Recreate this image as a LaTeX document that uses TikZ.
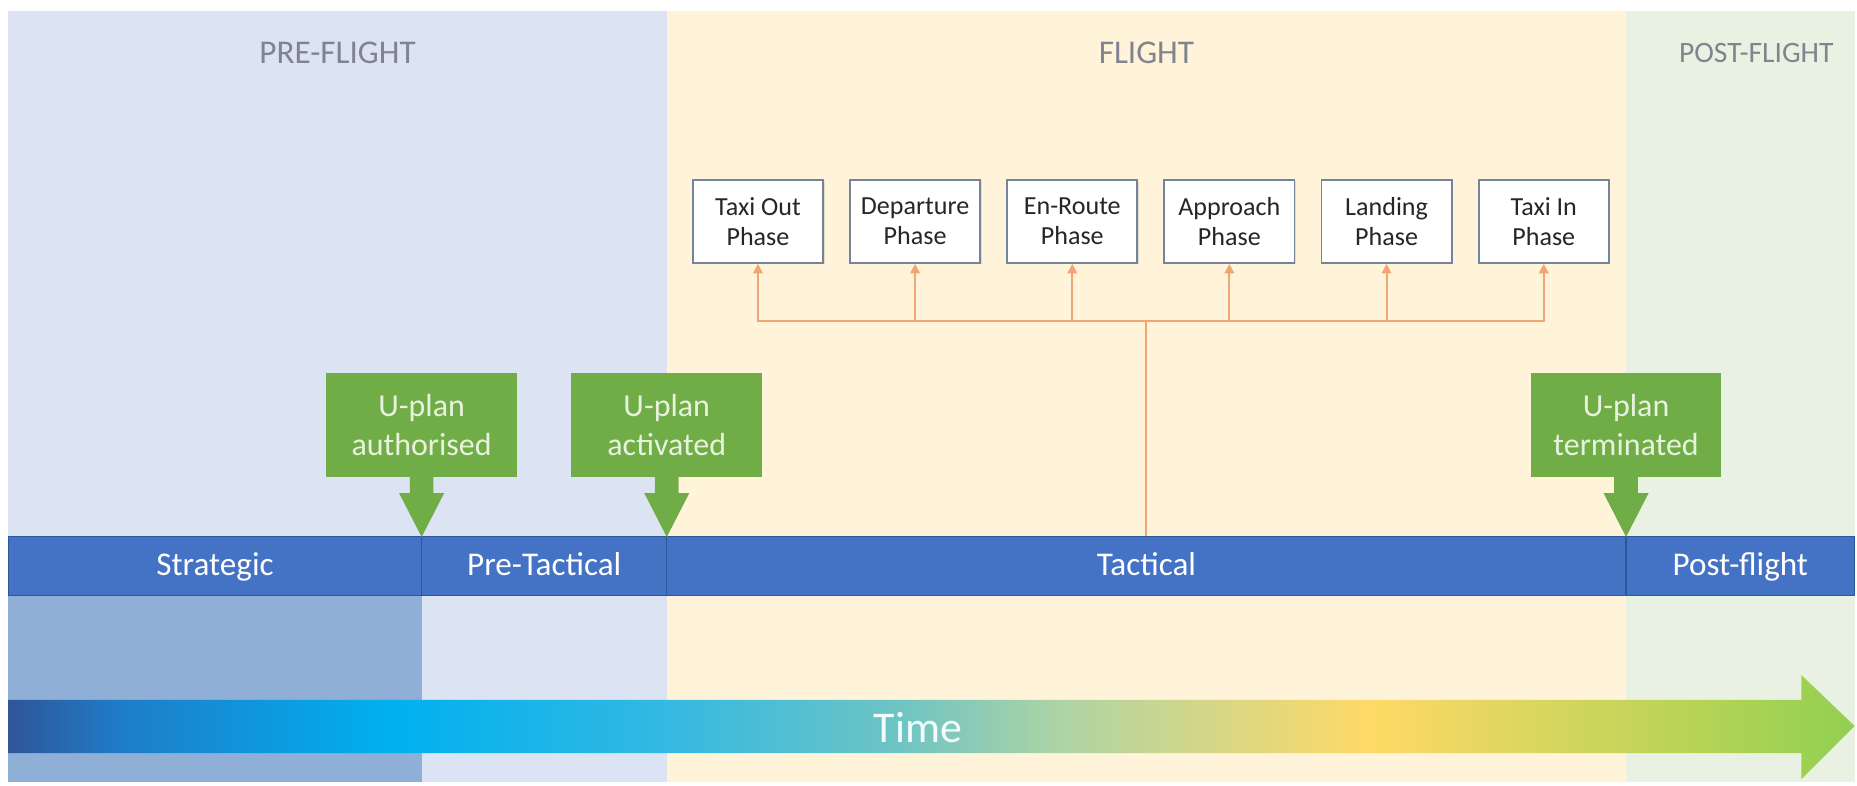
\documentclass[tikz,border=0pt]{standalone}
\usepackage{fontspec}
\setmainfont{Carlito}
\usetikzlibrary{arrows.meta,calc,shadows}

% palette
\definecolor{preBg}{HTML}{DCE3F3}
\definecolor{fltBg}{HTML}{FFF4D9}
\definecolor{postBg}{HTML}{E9F2E2}
\definecolor{stratBg}{HTML}{8FAFD6}
\definecolor{barBlue}{HTML}{4472C4}
\definecolor{barEdge}{HTML}{2F559A}
\definecolor{callGreen}{HTML}{70AD47}
\definecolor{callText}{HTML}{E8F3DF}
\definecolor{titleGray}{HTML}{7F848E}
\definecolor{linkOrange}{HTML}{F0A575}
\definecolor{boxEdge}{HTML}{74849C}
% colours along the time axis
\definecolor{tA}{HTML}{2F5597}
\definecolor{tB}{HTML}{1F7CC8}
\definecolor{tC}{HTML}{00B0F0}
\definecolor{tD}{HTML}{33B9E2}
\definecolor{tE}{HTML}{6EC4C4}
\definecolor{tF}{HTML}{AFD4A4}
\definecolor{tG}{HTML}{FFD966}
\definecolor{tH}{HTML}{92D050}

\pgfdeclarehorizontalshading{timeshade}{100bp}{%
  color(0bp)=(tA); color(25bp)=(tA); color(28bp)=(tB); color(35.3bp)=(tC);
  color(42.8bp)=(tD); color(49.1bp)=(tE); color(53.6bp)=(tF);
  color(61.9bp)=(tG); color(75bp)=(tH); color(100bp)=(tH)}

\tikzset{
  paneltitle/.style={text=titleGray, font=\fontsize{14}{16}\selectfont},
  barseg/.style={fill=barBlue, draw=barEdge, line width=0.5pt, inner sep=0pt,
    minimum height=25pt, text height=1em, text depth=0.2em, text=white,
    font=\fontsize{14}{16}\selectfont},
  phasebox/.style={draw=boxEdge, line width=0.8pt, fill=white, inner sep=0pt,
    minimum width=55pt, minimum height=35pt, align=center, text=black!85,
    font=\fontsize{11}{12.5}\selectfont,
    drop shadow={shadow xshift=0.6pt, shadow yshift=-0.6pt, opacity=0.2}},
  callbox/.style={fill=callGreen, inner sep=0pt, minimum width=80.5pt,
    minimum height=44pt, align=center, text=callText,
    font=\fontsize{13.5}{16.5}\selectfont},
  linkline/.style={draw=linkOrange, line width=0.9pt},
  linkarrow/.style={linkline, -{Triangle[width=4pt,length=4pt]}},
}

% downward pointer under a callout box: #1 box name
\newcommand{\calloutpointer}[1]{%
  \fill[callGreen] ($(#1.south)+(-10,-1)$) -- ($(#1.south)+(-10,13)$)
    -- ($(#1.south)+(-19,13)$) -- ($(#1.south)+(0,50)$)
    -- ($(#1.south)+(19,13)$) -- ($(#1.south)+(10,13)$)
    -- ($(#1.south)+(10,-1)$) -- cycle;}

\begin{document}
\begin{tikzpicture}[x=0.5pt, y=-0.5pt]
\useasboundingbox (0,0) rectangle (1568,663);
\fill[white] (0,0) rectangle (1568,663);

% phase backgrounds
\fill[preBg]  (7,9)    rectangle (563,660);
\fill[fltBg]  (563,9)  rectangle (1373,660);
\fill[postBg] (1373,9) rectangle (1566,660);
\fill[stratBg] (7,503) rectangle (356,660);

\node[paneltitle] (preflight)  at (285,45)  {PRE-FLIGHT};
\node[paneltitle] (flight)     at (968,45)  {FLIGHT};
\node[paneltitle, font=\fontsize{12.5}{15}\selectfont] (postflight) at (1483,45) {POST-FLIGHT};

% timeline bar
\node[barseg, minimum width=174.5pt] (strategic) at (181.5,478) {Strategic};
\node[barseg, minimum width=103.5pt] (pretact)   at (459.5,478) {Pre-Tactical};
\node[barseg, minimum width=405pt]   (tactical)  at (968,478)   {Tactical};
\node[barseg, minimum width=96.5pt]  (postfl)    at (1469.5,478) {Post-flight};

% flight phases
\node[phasebox] (ph1) at (640,187)    {Taxi Out\\Phase};
\node[phasebox] (ph2) at (772.7,187)  {Departure\\Phase};
\node[phasebox] (ph3) at (905.4,187)  {En-Route\\Phase};
\node[phasebox] (ph4) at (1038,187)   {Approach\\Phase};
\node[phasebox] (ph5) at (1170.8,187) {Landing\\Phase};
\node[phasebox] (ph6) at (1303.5,187) {Taxi In\\Phase};

\coordinate (bus) at (968,271);
\draw[linkline] (tactical.north -| bus) -- (bus);
\foreach \p in {ph1,ph2,ph3,ph4,ph5,ph6}
  \draw[linkarrow] (bus) -| (\p.south);

% U-plan milestones
\node[callbox] (auth) at (356,359)  {U-plan\\authorised};
\node[callbox] (act)  at (563,359)  {U-plan\\activated};
\node[callbox] (term) at (1373,359) {U-plan\\terminated};
\calloutpointer{auth}
\calloutpointer{act}
\calloutpointer{term}

% time axis
\shade[shading=timeshade] (7,591) -- (1521,591) -- (1521,570) -- (1566,613)
  -- (1521,658) -- (1521,636) -- (7,636) -- cycle;
\node[text=white!95!cyan, font=\fontsize{18.5}{20}\selectfont] (time) at (775,614) {Time};
\end{tikzpicture}
\end{document}
